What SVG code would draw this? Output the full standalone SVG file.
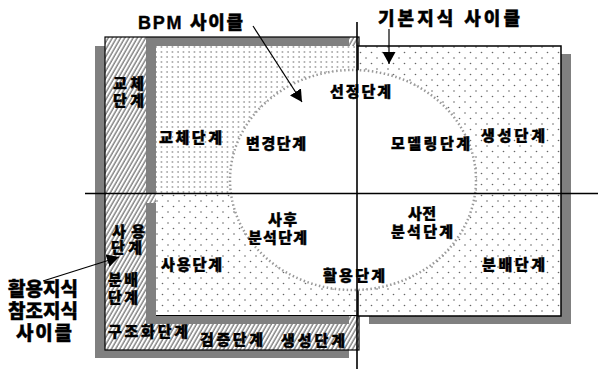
<svg xmlns="http://www.w3.org/2000/svg" width="598" height="369" viewBox="0 0 598 369">
<style>
.t{font-family:"Liberation Sans","Noto Sans CJK KR",sans-serif;font-weight:900;fill:#000;stroke:#000;stroke-width:0.4}
.s13{font-size:15px}
.s17{font-size:18px}
.s18{font-size:19px}
.sh{fill:#808080}
.ln{stroke:#000;stroke-width:1.6;fill:none}
</style>
<defs>
<pattern id="hatch" patternUnits="userSpaceOnUse" width="3.6" height="3.6" patternTransform="rotate(30)">
<rect width="3.6" height="3.6" fill="#fff"/>
<line x1="1" y1="0" x2="1" y2="3.6" stroke="#333" stroke-width="0.9"/>
</pattern>
<pattern id="dense" patternUnits="userSpaceOnUse" width="5.5" height="5">
<rect width="5.5" height="5" fill="#fff"/>
<circle cx="2" cy="2" r="0.7" fill="#555"/>
</pattern>
<pattern id="sparse" patternUnits="userSpaceOnUse" width="11" height="11">
<rect width="11" height="11" fill="#fff"/>
<circle cx="3" cy="3" r="0.8" fill="#666"/>
<circle cx="8.5" cy="8.5" r="0.8" fill="#666"/>
</pattern>
<marker id="ah" markerUnits="userSpaceOnUse" markerWidth="13" markerHeight="13" refX="12" refY="6.5" orient="auto">
<path d="M0,0 L12,6.5 L0,13 z" fill="#000"/>
</marker>
</defs>

<g id="cycle-usage">
<rect class="sh" x="95" y="46" width="254" height="312"/>
<rect x="105" y="37" width="254" height="313" fill="url(#hatch)"/>
</g>

<g id="cycle-bpm">
<rect class="sh" x="146" y="37" width="203" height="156"/>
<rect x="156" y="46" width="203" height="147" fill="url(#dense)"/>
</g>

<g id="cycle-lower-left">
<rect class="sh" x="146" y="203" width="203" height="121"/>
<rect x="156" y="193" width="203" height="123" fill="url(#sparse)"/>
<line x1="156" y1="315.5" x2="359" y2="315.5" stroke="#000" stroke-width="1.2"/>
</g>

<g id="outline-usage">
<rect x="105" y="37" width="254" height="313" fill="none" stroke="#000" stroke-width="1.2"/>
</g>

<g id="cycle-basic">
<rect class="sh" x="369" y="54" width="202" height="270"/>
<rect x="358" y="46" width="203" height="270" fill="url(#sparse)" stroke="#000" stroke-width="1.5"/>
</g>

<g id="cycle-center">
<ellipse cx="353" cy="180" rx="123" ry="110" fill="#fff" stroke="#9a9a9a" stroke-width="2.5" stroke-dasharray="1.5 2.5"/>
</g>

<g id="connectors">
<line class="ln" x1="85" y1="193.5" x2="598" y2="193.5"/>
<line class="ln" x1="357" y1="22" x2="357" y2="369"/>
<line x1="253" y1="26" x2="302" y2="102" stroke="#000" stroke-width="1.2" marker-end="url(#ah)"/>
<line x1="389" y1="29" x2="389" y2="64" stroke="#000" stroke-width="1.2" marker-end="url(#ah)"/>
<line x1="43" y1="281" x2="119" y2="257" stroke="#000" stroke-width="1.2" marker-end="url(#ah)"/>
</g>

<g id="labels">
<text class="t s17" x="138" y="29" textLength="105" lengthAdjust="spacing">BPM 사이클</text>
<text class="t s17" x="378" y="25" textLength="142" lengthAdjust="spacing">기본지식 사이클</text>

<text class="t s13" x="113" y="89" textLength="31" lengthAdjust="spacing">교체</text>
<text class="t s13" x="113" y="106" textLength="31" lengthAdjust="spacing">단계</text>
<text class="t s13" x="112" y="237" textLength="33" lengthAdjust="spacing">사용</text>
<text class="t s13" x="111" y="253" textLength="31" lengthAdjust="spacing">단계</text>
<text class="t s13" x="108" y="285" textLength="30" lengthAdjust="spacing">분배</text>
<text class="t s13" x="108" y="303" textLength="30" lengthAdjust="spacing">단계</text>
<text class="t s13" x="108" y="337" textLength="80" lengthAdjust="spacing">구조화단계</text>
<text class="t s13" x="200" y="345" textLength="63" lengthAdjust="spacing">검증단계</text>
<text class="t s13" x="281" y="346" textLength="64" lengthAdjust="spacing">생성단계</text>

<text class="t s13" x="159" y="143" textLength="63" lengthAdjust="spacing">교체단계</text>
<text class="t s13" x="246" y="149" textLength="60" lengthAdjust="spacing">변경단계</text>
<text class="t s13" x="330" y="97" textLength="61" lengthAdjust="spacing">선정단계</text>
<text class="t s13" x="391" y="149" textLength="79" lengthAdjust="spacing">모델링단계</text>
<text class="t s13" x="481" y="141" textLength="64" lengthAdjust="spacing">생성단계</text>

<text class="t s13" x="268" y="225" textLength="29" lengthAdjust="spacing">사후</text>
<text class="t s13" x="248" y="243" textLength="59" lengthAdjust="spacing">분석단계</text>
<text class="t s13" x="408" y="219" textLength="28" lengthAdjust="spacing">사전</text>
<text class="t s13" x="391" y="237" textLength="62" lengthAdjust="spacing">분석단계</text>

<text class="t s13" x="161" y="270" textLength="61" lengthAdjust="spacing">사용단계</text>
<text class="t s13" x="323" y="281" textLength="62" lengthAdjust="spacing">활용단계</text>
<text class="t s13" x="482" y="270" textLength="63" lengthAdjust="spacing">분배단계</text>

<text class="t s18" x="8" y="296" textLength="70" lengthAdjust="spacing">활용지식</text>
<text class="t s18" x="8" y="318" textLength="70" lengthAdjust="spacing">참조지식</text>
<text class="t s18" x="16" y="340" textLength="56" lengthAdjust="spacing">사이클</text>
</g>
</svg>
